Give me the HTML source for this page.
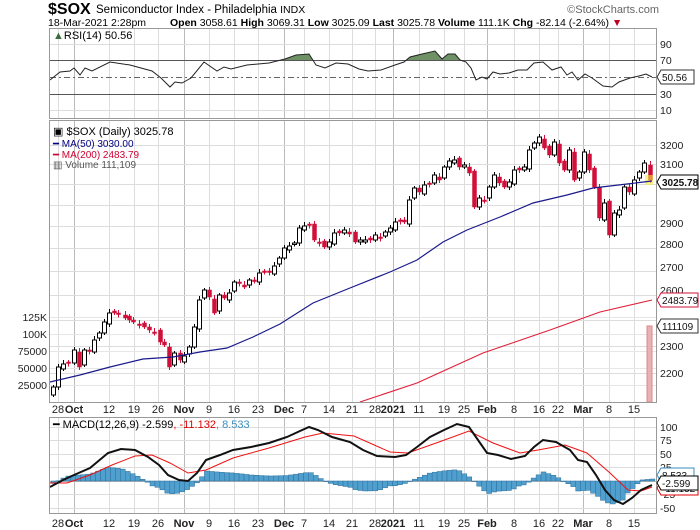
<!DOCTYPE html>
<html><head><meta charset="utf-8"><style>
body{margin:0;background:#fff;}
svg{display:block;font-family:"Liberation Sans",sans-serif;}
</style></head><body>
<svg id="s" width="700" height="530" viewBox="0 0 700 530" xmlns="http://www.w3.org/2000/svg">
<rect width="700" height="530" fill="#fff"/>
<text x="48" y="14" font-size="16" font-weight="bold">$SOX</text>
<text x="96" y="13" font-size="11.5">Semiconductor Index - Philadelphia <tspan font-size="10.5">INDX</tspan></text>
<text x="659" y="13" font-size="11" fill="#666" text-anchor="end">©StockCharts.com</text>
<text x="48" y="26" font-size="10.5">18-Mar-2021 2:28pm</text>
<text x="170" y="26" font-size="10.5"><tspan font-weight="bold">Open</tspan> 3058.61 <tspan font-weight="bold">High</tspan> 3069.31 <tspan font-weight="bold">Low</tspan> 3025.09 <tspan font-weight="bold">Last</tspan> 3025.78 <tspan font-weight="bold">Volume</tspan> 111.1K <tspan font-weight="bold">Chg</tspan> -82.14 (-2.64%) <tspan fill="#c00020">▼</tspan></text>
<g id="grid" stroke="#ddd" stroke-width="1"></g>
<g id="main"></g>
<rect x="49.5" y="28.5" width="607" height="90" fill="none" stroke="#999"/>
<text x="53" y="39" font-size="11"><tspan fill="#3a6b3a">▲</tspan>RSI(14) 50.56</text>
<g font-size="10.5" fill="#222"><text x="660" y="48">90</text><text x="660" y="64">70</text><text x="660" y="98">30</text><text x="660" y="114">10</text></g>
<rect x="49.5" y="120.5" width="607" height="282" fill="none" stroke="#999"/>
<text x="53" y="135" font-size="11">▣ $SOX (Daily) 3025.78</text>
<text x="53" y="147" font-size="10" fill="#000080">━ MA(50) 3030.00</text>
<text x="53" y="158" font-size="10" fill="#d00030">━ MA(200) 2483.79</text>
<text x="53" y="168" font-size="10" fill="#555">▥ Volume 111,109</text>
<g font-size="10.5" fill="#222">
<text x="660" y="149">3200</text><text x="660" y="168">3100</text><text x="660" y="227">2900</text><text x="660" y="248">2800</text><text x="660" y="271">2700</text><text x="660" y="294">2600</text><text x="660" y="350">2300</text><text x="660" y="377">2200</text>
</g>
<g font-size="10.5" fill="#222" text-anchor="end">
<text x="47" y="321">125K</text><text x="47" y="338">100K</text><text x="47" y="355">75000</text><text x="47" y="372">50000</text><text x="47" y="389">25000</text>
</g>
<rect x="49.5" y="417.5" width="607" height="96" fill="none" stroke="#999"/>
<text x="53" y="428" font-size="11"><tspan>━ MACD(12,26,9) -2.599</tspan><tspan fill="#e00000">, -11.132</tspan><tspan fill="#3a8ec0">, 8.533</tspan></text>
<g font-size="10.5" fill="#222"><text x="660" y="431">100</text><text x="660" y="444">75</text><text x="660" y="458">50</text><text x="660" y="471">25</text><text x="660" y="498">-25</text><text x="660" y="512">-50</text></g>
<g id="dates1" font-size="11" fill="#222" text-anchor="middle"></g>
<g id="fg"></g>
</svg>
<script>
var NS="http://www.w3.org/2000/svg";
function el(t,a,p){var e=document.createElementNS(NS,t);for(var k in a)e.setAttribute(k,a[k]);(p||document.getElementById('main')).appendChild(e);return e;}
var grid=document.getElementById('grid');
var D=[[58,"28"],[74,"Oct",1],[109,"12"],[134,"19"],[158,"26"],[184,"Nov",1],[209,"9"],[234,"16"],[258,"23"],[284,"Dec",1],[304,"7"],[329,"14"],[352,"21"],[375,"28"],[393,"2021",1],[419,"11"],[444,"19"],[464,"25"],[487,"Feb",1],[514,"8"],[539,"16"],[558,"22"],[583,"Mar",1],[609,"8"],[634,"15"]];
var dg=document.getElementById('dates1');
D.forEach(function(d){
 var st=d[2]?"#bbb":"#ddd";
 [[28,118],[120,402],[417,513]].forEach(function(r){el('line',{x1:d[0]+.5,x2:d[0]+.5,y1:r[0],y2:r[1],stroke:st},grid);});
 [413,527].forEach(function(y){var t=el('text',{x:d[0],y:y},dg);t.textContent=d[1];if(d[2])t.setAttribute('font-weight','bold');});
});
function hl(y,c,dash){var e=el('line',{x1:50,x2:656,y1:y+.5,y2:y+.5,stroke:c},grid);if(dash)e.setAttribute('stroke-dasharray',dash);}
[44,110].forEach(function(y){hl(y,"#ddd")});
hl(60,"#555");hl(94,"#555");hl(77,"#666","6,3,2,3");
function py(p){return 145+608.5*Math.log(3200/p);}
[3200,3100,3000,2900,2800,2700,2600,2500,2400,2300,2200].forEach(function(p){hl(Math.round(py(p)),"#ddd")});
[317,334,351,368,385].forEach(function(y){hl(y,"#e6e6e6")});
[427,440,454,467,494,508].forEach(function(y){hl(y,"#ddd")});
hl(481,"#bbb");
function pts(a){return a.map(function(p){return p[0]+","+p[1]}).join(" ");}
var R=[[50,80],[60,72],[70,71],[74,68],[80,75],[85,68],[92,71],[110,62],[130,65],[152,71],[161,78],[170,87],[175,82],[182,83],[191,78],[204,62],[217,71],[224,67],[231,69],[247,65],[269,63],[285,59],[296,55],[309,54],[316,65],[325,68],[336,63],[348,64],[359,69],[368,71],[381,70],[395,65],[404,62],[410,57],[422,54],[435,51],[442,59],[448,54],[455,54],[460,60],[466,62],[471,68],[476,80],[482,77],[487,79],[493,72],[500,74],[509,73],[518,70],[527,70],[534,63],[543,62],[552,70],[561,67],[567,75],[572,72],[578,80],[585,74],[592,78],[603,86],[612,87],[619,82],[630,78],[639,76],[646,74],[652,77]];
var defs=el('defs',{});var cp=el('clipPath',{id:'c70'},defs);el('rect',{x:50,y:28,width:606,height:32},cp);
el('polygon',{points:"50,60 "+pts(R)+" 652,60",fill:"#6e9266","clip-path":"url(#c70)",stroke:"none"});
el('polyline',{points:pts(R),fill:"none",stroke:"#222","stroke-width":1});
var C=[[53,387],[58,367],[63,364],[68,363],[74,350],[79,367],[84,350],[89,350],[94,340],[99,333],[104,322],[109,313],[114,313],[118,313],[125,318],[129,320],[133,322],[139,325],[144,327],[149,330],[154,332],[160,342],[164,345],[169,367],[174,353],[180,360],[184,356],[189,347],[194,327],[199,300],[204,290],[209,297],[214,313],[219,295],[224,298],[229,293],[234,282],[239,283],[244,287],[249,280],[254,280],[259,273],[264,271],[269,272],[274,266],[279,258],[284,248],[289,246],[294,243],[299,228],[304,226],[309,224],[314,240],[319,243],[324,247],[329,242],[334,233],[339,233],[344,230],[349,234],[355,242],[360,240],[365,240],[370,240],[375,235],[380,238],[385,232],[390,228],[395,222],[400,220],[404,222],[409,200],[414,188],[419,192],[424,185],[429,183],[434,175],[439,180],[444,167],[449,161],[454,160],[459,167],[464,165],[469,173],[474,207],[479,198],[484,200],[489,187],[494,175],[499,183],[504,187],[509,182],[514,170],[519,170],[524,167],[529,150],[534,143],[539,137],[544,148],[549,155],[554,142],[559,163],[564,170],[569,150],[574,180],[579,172],[584,152],[589,170],[594,187],[599,218],[604,203],[609,235],[614,213],[619,210],[624,187],[629,192],[634,180],[639,172],[644,163],[650,180]];
var prev=C[0][1]+8;
C.forEach(function(c,i){
 var o=(i==0)?prev:prev+(i%3-1)*2, cl=c[1], x=c[0];
 var up=cl<o, top=Math.min(o,cl), h=Math.max(Math.abs(o-cl),1.5);
 var col=up?"#000":"#d0103a";
 el('line',{x1:x+.5,x2:x+.5,y1:top-2-(i%3),y2:top+h+2+(i%2),stroke:col});
 if(up)el('rect',{x:x-1.5,y:top,width:4,height:h,fill:"#fff",stroke:"#000"});
 else el('rect',{x:x-1.5,y:top,width:4,height:h,fill:col,stroke:col,"stroke-width":0.5});
 prev=cl;
});
el('rect',{x:645,y:175,width:8,height:10,fill:"#f5e642",opacity:.6});
el('polyline',{points:pts([[50,382],[80,375],[110,367],[143,359],[173,357],[200,352],[227,348],[253,337],[280,324],[313,303],[350,288],[390,272],[417,260],[443,242],[467,230],[500,217],[533,203],[567,195],[593,188],[627,184],[652,181]]),fill:"none",stroke:"#1a1a8c","stroke-width":1.2});
el('polyline',{points:pts([[360,402],[417,383],[483,353],[550,330],[600,312],[652,300]]),fill:"none",stroke:"#e0203a","stroke-width":1.1});
el('rect',{x:647,y:326,width:5,height:76,fill:"#e9b0b5",stroke:"#d88"});
var M=[[50,487],[63,480],[74,475],[90,468],[108,453],[121,449],[135,450],[148,457],[159,465],[168,475],[179,480],[188,481],[197,473],[206,460],[220,455],[233,450],[251,447],[269,443],[287,437],[300,431],[309,427],[318,430],[332,437],[350,442],[363,450],[377,456],[395,457],[406,455],[417,447],[430,437],[444,430],[457,424],[469,427],[478,440],[487,453],[498,455],[511,459],[525,456],[534,447],[543,440],[556,442],[570,450],[578,460],[587,462],[596,475],[605,490],[614,500],[623,504],[632,498],[641,490],[652,485]];
var S=[[50,483],[67,483],[90,475],[112,465],[135,456],[152,455],[170,463],[188,473],[206,470],[233,458],[269,448],[305,437],[323,433],[354,436],[390,452],[408,453],[439,442],[469,431],[493,443],[520,453],[538,450],[565,445],[587,453],[610,473],[628,490],[641,491],[652,487]];
function interp(a,x){for(var i=1;i<a.length;i++){if(x<=a[i][0]){var t=(x-a[i-1][0])/(a[i][0]-a[i-1][0]);return a[i-1][1]+t*(a[i][1]-a[i-1][1]);}}return a[a.length-1][1];}
for(var x=51;x<652;x+=4.95){var d=interp(M,x+2)-interp(S,x+2);var y=481+d;
 el('rect',{x:x,y:Math.min(481,y),width:4.95,height:Math.max(Math.abs(d),0.5),fill:"#4f9fcf",stroke:"#2f6f9a","stroke-width":0.5});}
el('polyline',{points:pts(S),fill:"none",stroke:"#f01010","stroke-width":1});
el('polyline',{points:pts(M),fill:"none",stroke:"#111","stroke-width":2});
var fg=document.getElementById('fg');
function tag(y,txt,col,bold){var w=Math.min(txt.length*5.8+4,37);el('path',{d:"M657,"+y+" l4,-7 h"+w+" v14 h-"+w+" z",fill:"#fff",stroke:col},fg);var t=el('text',{x:662,y:y+4,"font-size":10,fill:"#111"},fg);if(bold){t.setAttribute('font-weight','bold');}t.textContent=txt;}
tag(77,"50.56","#333");
tag(300,"2483.79","#d0103a");
tag(326,"111109","#333");
tag(182,"3025.78","#000",1);
tag(475,"8.533","#3a8ec0");
tag(488,"-11.132","#e00000");
tag(483,"-2.599","#000");
</script>
</body></html>
